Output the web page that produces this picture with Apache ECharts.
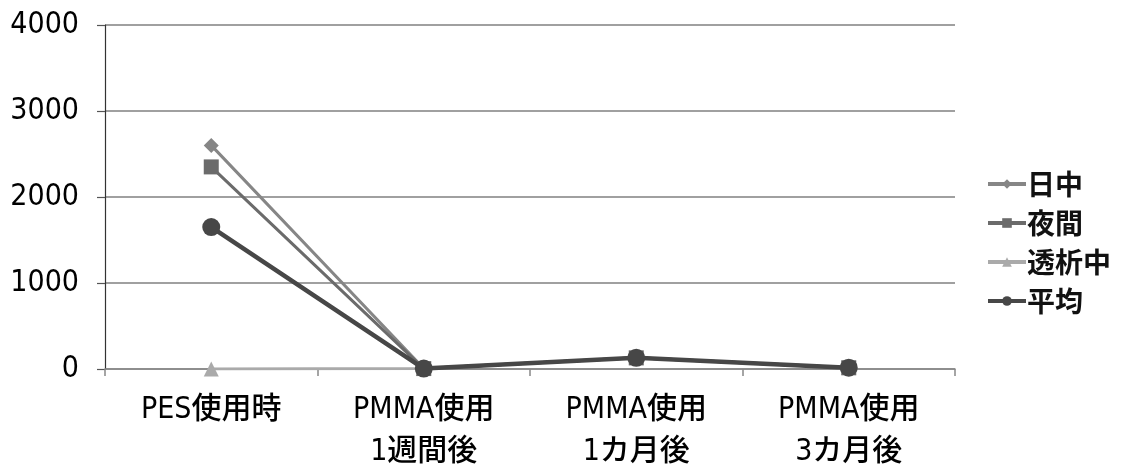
<!DOCTYPE html>
<html>
<head>
<meta charset="utf-8">
<script src="https://cdn.jsdelivr.net/npm/echarts@6/dist/echarts.min.js"></script>
<style>
  html, body { margin: 0; padding: 0; background: #fff; }
  #chart { width: 1122px; height: 473px; }
</style>
</head>
<body>
<div id="chart"></div>
<script>
// Categories along the x axis (two-line labels)
const categories = ['PES使用時', 'PMMA使用\n1週間後', 'PMMA使用\n1カ月後', 'PMMA使用\n3カ月後'];

// Series values
const daytime = [2600, 5, 130, 15];
const night = [2350, 5, 130, 15];
const dialysis = [0, 5, 130, 15];
const average = [1650, 5, 130, 15];

const seriesNames = ['日中', '夜間', '透析中', '平均'];

// Y axis ticks
const yMin = 0;
const yMax = 4000;
const yStep = 1000;

const labelFont = '"DejaVu Sans Condensed", "Noto Sans CJK JP", sans-serif';

function lineSeries(name, data, color, symbol, symbolSize, width, z) {
  return {
    name: name,
    type: 'line',
    data: data,
    symbol: symbol,
    symbolSize: symbolSize,
    z: z,
    lineStyle: { color: color, width: width },
    itemStyle: { color: color },
    emphasis: { disabled: true },
    animation: false
  };
}

const chart = echarts.init(document.getElementById('chart'), null, { renderer: 'canvas' });
chart.setOption({
  backgroundColor: '#ffffff',
  animation: false,
  grid: { left: 105, right: 167, top: 25, bottom: 100, containLabel: false },
  legend: {
    orient: 'vertical',
    left: 981,
    top: 165,
    itemWidth: 38,
    itemHeight: 12,
    itemGap: 11,
    data: seriesNames,
    lineStyle: { width: 4 },
    textStyle: {
      fontFamily: '"Noto Sans CJK JP", sans-serif',
      fontSize: 28,
      fontWeight: 'bold',
      color: '#111',
      padding: [0, 0, 0, -4]
    }
  },
  xAxis: {
    type: 'category',
    data: categories,
    boundaryGap: true,
    axisLine: { lineStyle: { color: '#888', width: 1.5 } },
    axisTick: { show: true, length: 7, lineStyle: { color: '#888', width: 1.5 } },
    axisLabel: {
      margin: 20,
      fontFamily: labelFont,
      fontSize: 30,
      fontWeight: 500,
      lineHeight: 42,
      color: '#000',
      interval: 0
    }
  },
  yAxis: {
    type: 'value',
    min: yMin,
    max: yMax,
    interval: yStep,
    axisLine: { show: true, lineStyle: { color: '#333', width: 1.2 } },
    axisTick: { show: true, length: 8, inside: false, lineStyle: { color: '#555', width: 1.2 } },
    splitLine: { show: true, lineStyle: { color: '#808080', width: 1.5 } },
    axisLabel: {
      margin: 26,
      fontFamily: labelFont,
      fontSize: 30,
      color: '#000',
      formatter: function (v) { return String(v); }
    }
  },
  series: [
    lineSeries('日中', daytime, '#868686', 'diamond', 15, 3, 3),
    lineSeries('夜間', night, '#6b6b6b', 'rect', 15, 3, 4),
    lineSeries('透析中', dialysis, '#aaaaaa', 'triangle', 15, 3, 2),
    lineSeries('平均', average, '#474747', 'circle', 18, 4.5, 5)
  ]
});
</script>
</body>
</html>
